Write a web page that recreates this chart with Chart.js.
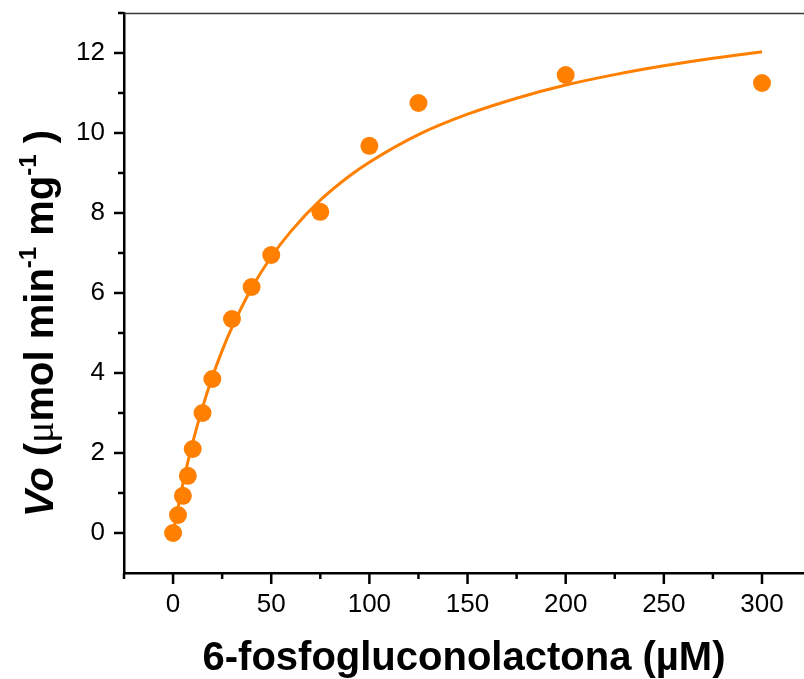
<!DOCTYPE html>
<html>
<head>
<meta charset="utf-8">
<script src="https://cdn.jsdelivr.net/npm/chart.js@4"></script>
<style>
html,body{margin:0;padding:0;background:#fff;overflow:hidden;}
canvas{display:block;}
</style>
</head>
<body>
<canvas id="c" width="804" height="679" style="width:804px;height:679px"></canvas>
<script>
// Measured data (6-fosfogluconolactona, µM  vs  Vo)
const substrate = [0, 2.5, 5, 7.5, 10, 15, 20, 30, 40, 50, 75, 100, 125, 200, 300];
const vo        = [0, 0.45, 0.93, 1.43, 2.1, 3.0, 3.85, 5.35, 6.15, 6.95, 8.03, 9.68, 10.75, 11.45, 11.25];

// Fitted curve
const fitX = [0, 2.5, 5, 7.5, 10, 15, 20, 25, 30, 40, 50, 60, 75, 90, 100, 125, 150, 175, 200, 225, 250, 275, 300];
const fitY = [0, 0.64, 1.23, 1.77, 2.26, 3.14, 3.90, 4.56, 5.14, 6.12, 6.90, 7.54, 8.32, 8.93, 9.27, 9.96, 10.47, 10.87, 11.20, 11.46, 11.68, 11.87, 12.03];

// Tick values
const xMajorTicks = [0, 50, 100, 150, 200, 250, 300];
const xMinorTicks = [-25, 25, 75, 125, 175, 225, 275];
const yMajorTicks = [0, 2, 4, 6, 8, 10, 12];
const yMinorTicks = [1, 3, 5, 7, 9, 11, 13];

const xTitle = '6-fosfogluconolactona (\u00B5M)';
const yTitleParts = [
  {t:'Vo', f:'italic bold 40px "Liberation Sans"'},
  {t:' (', f:'bold 40px "Liberation Sans"'},
  {t:'\u03BC', f:'40px "Liberation Serif"'},
  {t:'mol min', f:'bold 40px "Liberation Sans"'},
  {t:'-1', f:'bold 24px "Liberation Sans"', sup:true},
  {t:' mg', f:'bold 40px "Liberation Sans"'},
  {t:'-1', f:'bold 24px "Liberation Sans"', sup:true},
  {t:' )', f:'bold 40px "Liberation Sans"'}
];

const ORANGE = '#FF8000';

const decor = {
  id: 'decor',
  afterDraw(chart) {
    const ctx = chart.ctx;
    const xs = chart.scales.x, ys = chart.scales.y;
    const ca = chart.chartArea;
    ctx.save();
    // top frame line
    ctx.strokeStyle = '#3a3a3a';
    ctx.lineWidth = 1.5;
    ctx.beginPath();
    ctx.moveTo(ca.left, ca.top + 0.5);
    ctx.lineTo(ca.right, ca.top + 0.5);
    ctx.stroke();
    // ticks
    ctx.strokeStyle = '#000';
    ctx.lineWidth = 2.5;
    ctx.beginPath();
    yMajorTicks.forEach(v => { const p = ys.getPixelForValue(v); ctx.moveTo(ca.left, p); ctx.lineTo(ca.left - 10, p); });
    yMinorTicks.forEach(v => { const p = ys.getPixelForValue(v); ctx.moveTo(ca.left, p); ctx.lineTo(ca.left - 6, p); });
    xMajorTicks.forEach(v => { const p = xs.getPixelForValue(v); ctx.moveTo(p, ca.bottom); ctx.lineTo(p, ca.bottom + 11); });
    xMinorTicks.forEach(v => { const p = xs.getPixelForValue(v); ctx.moveTo(p, ca.bottom); ctx.lineTo(p, ca.bottom + 6); });
    ctx.stroke();
    // y title
    ctx.fillStyle = '#000';
    ctx.translate(53, 517);
    ctx.rotate(-Math.PI / 2);
    ctx.textAlign = 'left';
    ctx.textBaseline = 'alphabetic';
    let x = 0;
    yTitleParts.forEach(p => {
      ctx.font = p.f;
      ctx.fillText(p.t, x, p.sup ? -17 : 0);
      x += ctx.measureText(p.t).width;
    });
    ctx.restore();
  }
};

new Chart(document.getElementById('c'), {
  type: 'scatter',
  data: {
    datasets: [
      {
        label: 'ajuste',
        data: fitX.map((x, i) => ({x, y: fitY[i]})),
        showLine: true,
        borderColor: ORANGE,
        borderWidth: 3,
        pointRadius: 0,
        cubicInterpolationMode: 'monotone',
        fill: false,
        order: 2
      },
      {
        label: 'Vo',
        data: substrate.map((x, i) => ({x, y: vo[i]})),
        showLine: false,
        backgroundColor: ORANGE,
        borderWidth: 0,
        pointRadius: 9,
        pointHoverRadius: 9,
        order: 1
      }
    ]
  },
  options: {
    responsive: false,
    animation: false,
    events: [],
    layout: { autoPadding: false, padding: { top: 13, right: 0, left: 0, bottom: 0 } },
    plugins: { legend: { display: false }, tooltip: { enabled: false } },
    scales: {
      x: {
        type: 'linear',
        min: -25, max: 321.4,
        afterBuildTicks: s => { s.ticks = xMajorTicks.map(v => ({value: v})); },
        afterFit: s => { s.height = 106; s.paddingLeft = 0; s.paddingRight = 0; },
        grid: { drawOnChartArea: false, drawTicks: false },
        border: { display: true, color: '#000', width: 2.5 },
        ticks: { padding: 16, color: '#000', font: { family: '"Liberation Sans"', size: 26 }, maxRotation: 0, autoSkip: false },
        title: { display: true, text: xTitle, color: '#000', font: { family: '"Liberation Sans"', size: 40, weight: 'bold', lineHeight: 1 }, padding: { top: 0, bottom: 0 } }
      },
      y: {
        type: 'linear',
        min: -1, max: 13,
        afterBuildTicks: s => { s.ticks = yMajorTicks.map(v => ({value: v})); },
        afterFit: s => { s.width = 124; s.paddingTop = 0; s.paddingBottom = 0; },
        grid: { drawOnChartArea: false, drawTicks: false },
        border: { display: true, color: '#000', width: 2.5 },
        ticks: { padding: 19, color: '#000', font: { family: '"Liberation Sans"', size: 26 }, autoSkip: false }
      }
    }
  },
  plugins: [decor]
});
</script>
</body>
</html>
